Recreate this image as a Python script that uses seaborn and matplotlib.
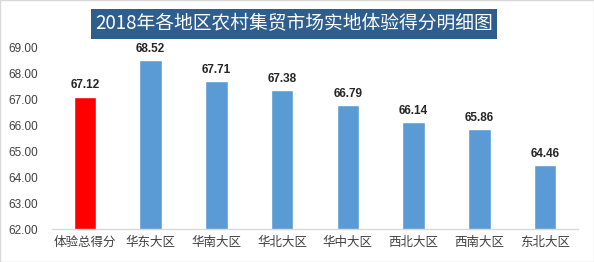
import matplotlib
matplotlib.use("Agg")
import matplotlib.pyplot as plt
import seaborn as sns
import pandas as pd

categories = ["体验总得分", "华东大区", "华南大区", "华北大区", "华中大区", "西北大区", "西南大区", "东北大区"]
values = [67.12, 68.52, 67.71, 67.38, 66.79, 66.14, 65.86, 64.46]
bar_colors = ["#FF0000", "#5B9BD5", "#5B9BD5", "#5B9BD5", "#5B9BD5", "#5B9BD5", "#5B9BD5", "#5B9BD5"]
yticks = [62, 63, 64, 65, 66, 67, 68, 69]
title = "2018年各地区农村集贸市场实地体验得分明细图"

sns.set_theme(style="white")
plt.rcParams['font.family'] = ['Noto Sans CJK SC', 'DejaVu Sans']

df = pd.DataFrame({"cat": categories, "val": values})

fig = plt.figure(figsize=(5.94, 2.62), dpi=100)
ax = fig.add_axes([52/594, 1 - 229/262, (578-52)/594, (229-48)/262])
sns.barplot(data=df, x="cat", y="val", hue="cat", palette=bar_colors, legend=False,
            width=0.34, ax=ax, saturation=1)

ax.set_ylim(62, 69)
ax.set_yticks(yticks)
ax.set_yticklabels([f"{t:.2f}" for t in yticks], fontsize=8.5, color="#404040", family=['Liberation Sans', 'DejaVu Sans'])
ax.tick_params(axis='x', labelsize=9, colors="#404040", length=0, pad=5)
ax.tick_params(axis='y', length=0, pad=10)
ax.set_xlabel("")
ax.set_ylabel("")
for s in ["top", "right", "left"]:
    ax.spines[s].set_visible(False)
ax.spines["bottom"].set_color("#D9D9D9")
ax.spines["bottom"].set_linewidth(1)

for i, v in enumerate(values):
    ax.text(i, v + 0.2, f"{v:.2f}", ha="center", va="bottom", fontsize=8.5,
            fontweight="bold", color="#262626", family=['Liberation Sans', 'DejaVu Sans'])

fig.text(294/594, 1 - 24/262, title, ha="center", va="center", fontsize=13.5, color="white",
         bbox=dict(boxstyle="square,pad=0.22", facecolor="#2E5E8E", edgecolor="none"))

fig.patches.append(plt.Rectangle((0, 0), 1, 1, transform=fig.transFigure, fill=False,
                                 edgecolor="#D9D9D9", linewidth=1))

fig.savefig("out.png", dpi=100)
